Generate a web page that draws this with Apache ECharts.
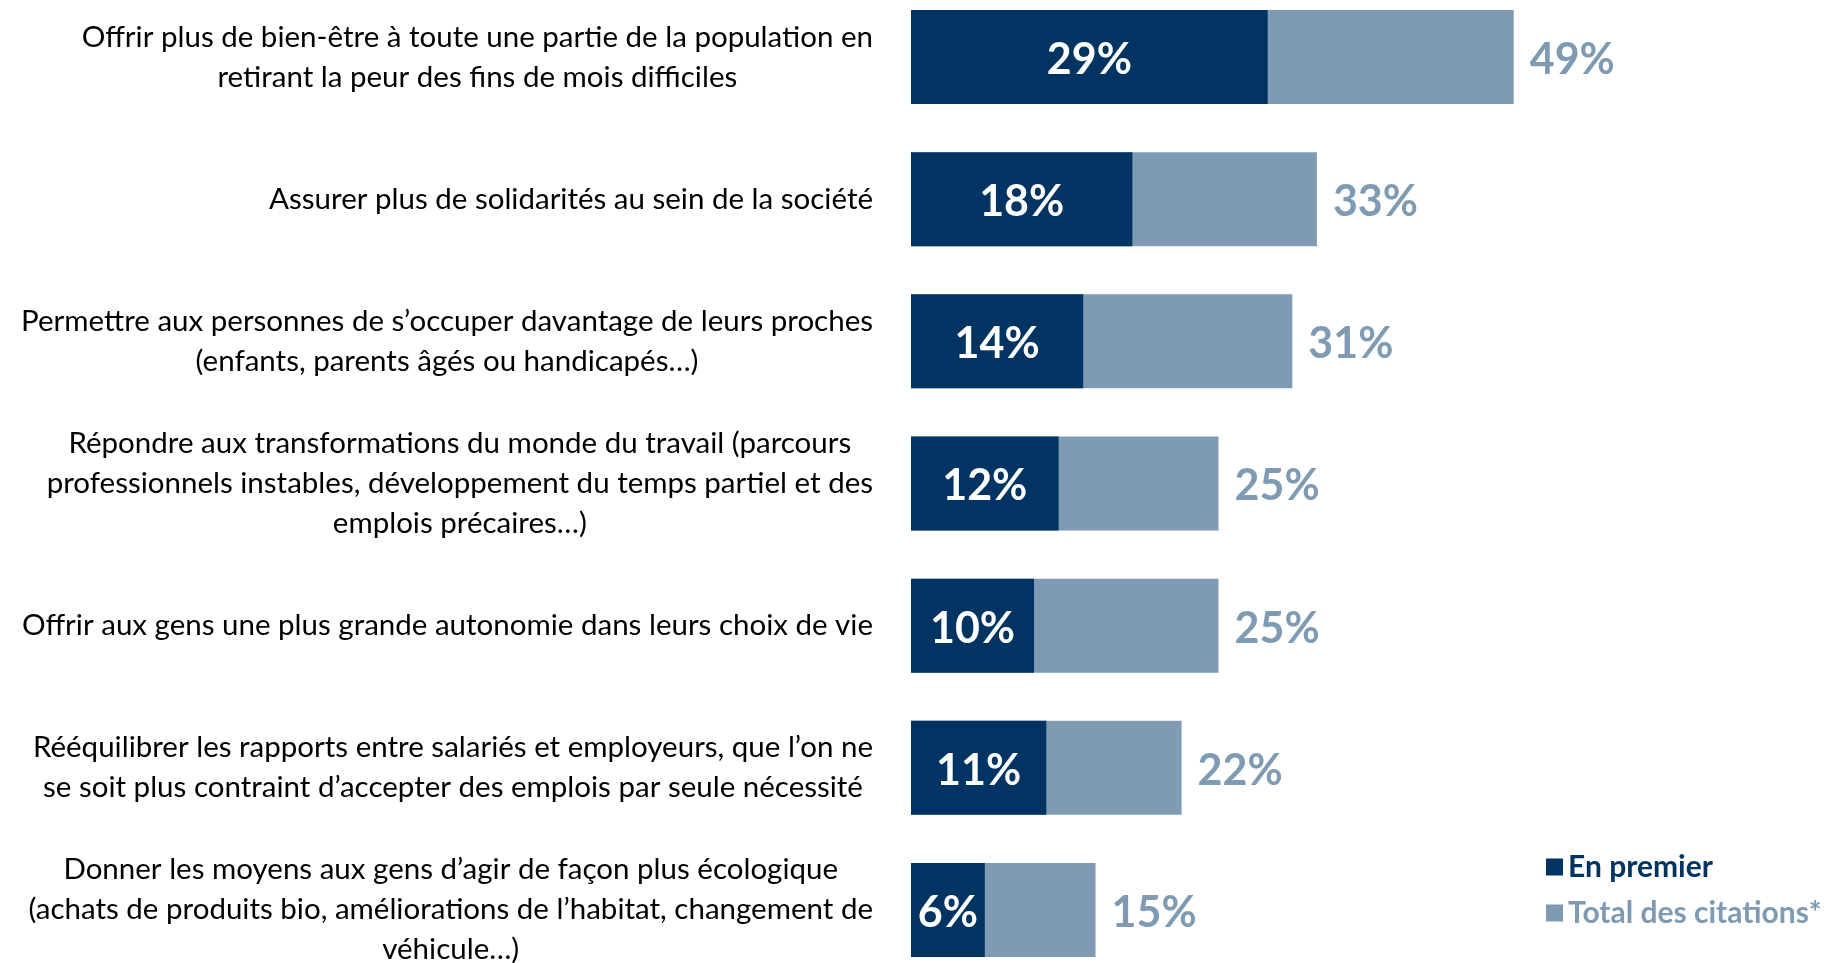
<!DOCTYPE html>
<html>

<head>
  <meta charset="utf-8">
  <title>Bar chart</title>
  <style>
    html, body { margin: 0; padding: 0; background: #fff; overflow: hidden; }
    /* chart area runs a little past the window, like the original slide */
    #main { width: 1827px; height: 995px; margin-top: -14px; }
  </style>
</head>

<body>
  <div id="main"></div>
  <script src="https://cdn.jsdelivr.net/npm/echarts@6/dist/echarts.min.js"></script>
  <script type="text/javascript">
    // categories (top to bottom)
    var categories = [
      "Offrir plus de bien-être à toute une partie de la population en\nretirant la peur des fins de mois difficiles",
      "Assurer plus de solidarités au sein de la société",
      "Permettre aux personnes de s’occuper davantage de leurs proches\n(enfants, parents âgés ou handicapés…)",
      "Répondre aux transformations du monde du travail (parcours\nprofessionnels instables, développement du temps partiel et des\nemplois précaires…)",
      "Offrir aux gens une plus grande autonomie dans leurs choix de vie",
      "Rééquilibrer les rapports entre salariés et employeurs, que l’on ne\nse soit plus contraint d’accepter des emplois par seule nécessité",
      "Donner les moyens aux gens d’agir de façon plus écologique\n(achats de produits bio, améliorations de l’habitat, changement de\nvéhicule…)"
    ];
    var enPremier = [29, 18, 14, 12, 10, 11, 6];
    var totalCitations = [49, 33, 31, 25, 25, 22, 15];

    var darkBlue = "#023463";
    var lightBlue = "#7f9ab3";
    var font = "Lato";

    var chart = echarts.init(document.getElementById("main"));
    chart.setOption({
      animation: false,
      grid: { left: 911, right: 178, top: 0, bottom: 0 },
      legend: {
        orient: "vertical",
        left: 1541,
        top: 861,
        itemWidth: 17,
        itemHeight: 17,
        itemGap: 16,
        icon: "rect",
        textStyle: { fontFamily: font, fontSize: 30, fontWeight: "bold" },
        data: [
          { name: "En premier", textStyle: { color: darkBlue } },
          { name: "Total des citations*", textStyle: { color: lightBlue } }
        ]
      },
      xAxis: {
        type: "value",
        min: 0,
        max: 60,
        show: false
      },
      yAxis: {
        type: "category",
        inverse: true,
        data: categories,
        axisLine: { show: false },
        axisTick: { show: false },
        axisLabel: {
          margin: 38,
          formatter: function (v) {
            return v.split("\n").map(function (l) { return "{c|" + l + "}"; }).join("\n");
          },
          rich: {
            c: { align: "center", fontFamily: font, fontSize: 29.5, color: "#000", lineHeight: 40 }
          }
        }
      },
      series: [
        {
          name: "Total des citations*",
          type: "bar",
          barWidth: 94,
          barGap: "-100%",
          itemStyle: { color: lightBlue },
          label: {
            show: true,
            position: "right",
            distance: 16,
            offset: [0, 3],
            formatter: "{c}%",
            color: lightBlue,
            fontFamily: font,
            fontSize: 43,
            fontWeight: "bold"
          },
          data: totalCitations
        },
        {
          name: "En premier",
          type: "bar",
          barWidth: 94,
          barGap: "-100%",
          itemStyle: { color: darkBlue },
          label: {
            show: true,
            position: "inside",
            offset: [0, 3],
            formatter: "{c}%",
            color: "#fff",
            fontFamily: font,
            fontSize: 43,
            fontWeight: "bold"
          },
          data: enPremier
        }
      ]
    });
    window.addEventListener("resize", chart.resize);
  </script>
</body>

</html>
